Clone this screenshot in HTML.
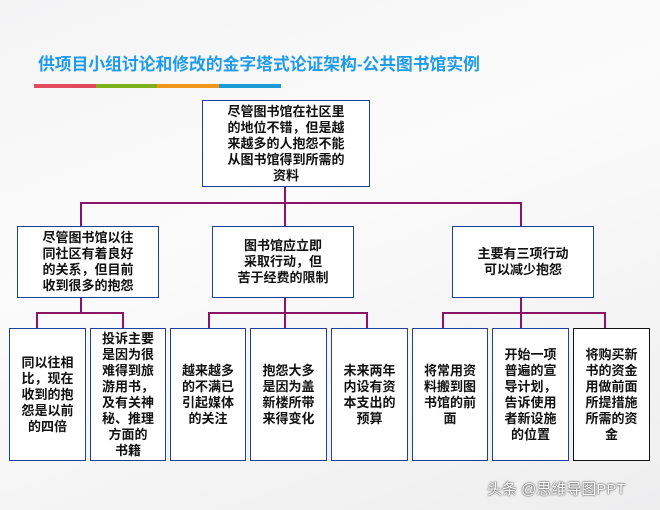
<!DOCTYPE html>
<html><head><meta charset="utf-8"><style>
body{margin:0;width:660px;height:510px;overflow:hidden;background:linear-gradient(160deg,#f4f4f5 0%,#fbfbfb 40%,#eeeeef 100%);font-family:"Liberation Sans","Noto Sans CJK SC",sans-serif;position:relative}
.t{position:absolute;left:38px;top:51px;font-size:16.8px;font-weight:bold;color:#1f9bea;white-space:nowrap}
.bar{position:absolute;top:84px;height:4px;width:62px}
.b{position:absolute;box-sizing:border-box;border:1.5px solid #1f3f99;background:#fff;display:flex;align-items:center;justify-content:center;text-align:center;font-size:13px;font-weight:bold;line-height:16px;color:#111}
.l{position:absolute;background:#8b1468}
.wm{position:absolute;left:487px;top:478px;font-size:15px;color:#fff;text-shadow:0 0 2px #555,0 0 1px #333}
</style></head><body>
<div class="t">供项目小组讨论和修改的金字塔式论证架构-公共图书馆实例</div>
<div class="bar" style="left:34px;background:#e24a5e"></div>
<div class="bar" style="left:96px;background:#7fb21a"></div>
<div class="bar" style="left:157px;background:#f0961a"></div>
<div class="bar" style="left:219px;background:#1a9ad6"></div>

<div class="l" style="left:284px;top:186px;width:2px;height:40px"></div>
<div class="l" style="left:80px;top:202px;width:442px;height:2px"></div>
<div class="l" style="left:80px;top:202px;width:2px;height:24px"></div>
<div class="l" style="left:520px;top:202px;width:2px;height:24px"></div>

<div class="l" style="left:80px;top:297px;width:2px;height:16px"></div>
<div class="l" style="left:36px;top:312px;width:88px;height:2px"></div>
<div class="l" style="left:36px;top:312px;width:2px;height:17px"></div>
<div class="l" style="left:122px;top:312px;width:2px;height:17px"></div>

<div class="l" style="left:284px;top:297px;width:2px;height:32px"></div>
<div class="l" style="left:208px;top:312px;width:160px;height:2px"></div>
<div class="l" style="left:208px;top:312px;width:2px;height:17px"></div>
<div class="l" style="left:366px;top:312px;width:2px;height:17px"></div>

<div class="l" style="left:520px;top:297px;width:2px;height:32px"></div>
<div class="l" style="left:442px;top:312px;width:164px;height:2px"></div>
<div class="l" style="left:442px;top:312px;width:2px;height:17px"></div>
<div class="l" style="left:604px;top:312px;width:2px;height:17px"></div>

<div class="b" style="left:202px;top:100px;width:168px;height:87px">尽管图书馆在社区里<br>的地位不错，但是越<br>来越多的人抱怨不能<br>从图书馆得到所需的<br>资料</div>
<div class="b" style="left:17px;top:226px;width:142px;height:72px">尽管图书馆以往<br>同社区有着良好<br>的关系，但目前<br>收到很多的抱怨</div>
<div class="b" style="left:212px;top:226px;width:142px;height:72px">图书馆应立即<br>采取行动，但<br>苦于经费的限制</div>
<div class="b" style="left:452px;top:226px;width:142px;height:72px">主要有三项行动<br>可以减少抱怨</div>

<div class="b" style="left:9px;top:328px;width:77px;height:133px">同以往相<br>比，现在<br>收到的抱<br>怨是以前<br>的四倍</div>
<div class="b" style="left:90px;top:328px;width:76px;height:133px">投诉主要<br>是因为很<br>难得到旅<br>游用书，<br>及有关神<br>秘、推理<br>方面的<br>书籍</div>
<div class="b" style="left:170px;top:328px;width:76px;height:133px">越来越多<br>的不满已<br>引起媒体<br>的关注</div>
<div class="b" style="left:250px;top:328px;width:77px;height:133px">抱怨大多<br>是因为盖<br>新楼所带<br>来得变化</div>
<div class="b" style="left:331px;top:328px;width:77px;height:133px">未来两年<br>内设有资<br>本支出的<br>预算</div>
<div class="b" style="left:412px;top:328px;width:76px;height:133px">将常用资<br>料搬到图<br>书馆的前<br>面</div>
<div class="b" style="left:492px;top:328px;width:77px;height:133px">开始一项<br>普遍的宣<br>导计划，<br>告诉使用<br>者新设施<br>的位置</div>
<div class="b" style="left:573px;top:328px;width:77px;height:133px;border-color:#111">将购买新<br>书的资金<br>用做前面<br>所提措施<br>所需的资<br>金</div>

<div class="wm">头条 @思维导图PPT</div>
</body></html>
